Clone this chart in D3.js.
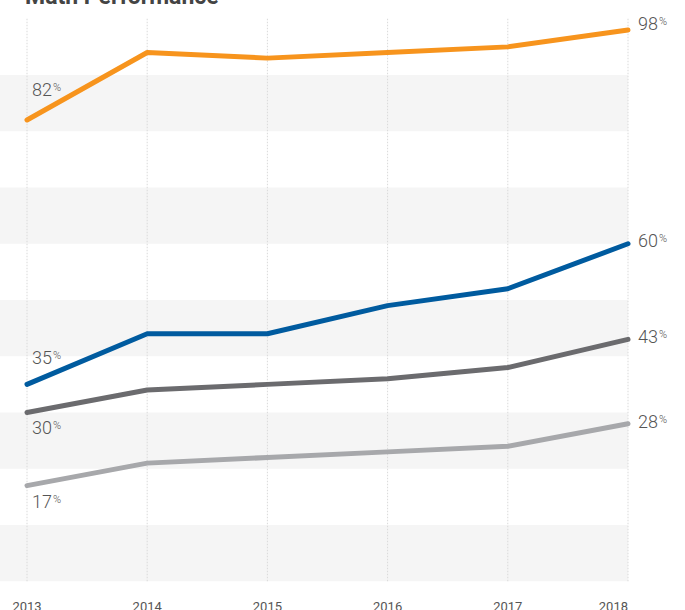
<!DOCTYPE html>
<html>
<head>
<meta charset="utf-8">
<script src="https://cdn.jsdelivr.net/npm/d3@7"></script>
<style>
  body { margin: 0; background: #fff; }
  svg { display: block; font-family: Roboto, "Noto Sans", sans-serif; }
</style>
</head>
<body>
<div id="wrapper"></div>
<script>
// data
const years = [2013, 2014, 2015, 2016, 2017, 2018];
const top4 = [82, 94, 93, 94, 95, 98];      // orange
const mid = [35, 44, 44, 49, 52, 60];       // blue
const low = [30, 34, 35, 36, 38, 43];       // dark grey
const bottom = [17, 21, 22, 23, 24, 28];    // light grey
const bands = [[0, 10], [20, 30], [40, 50], [60, 70], [80, 90]];

function drawChart() {
  let dimensions = {
    width: 685,
    height: 610,
    margin: { top: 18.75, right: 57, bottom: 28.75, left: 27 },
  };
  dimensions.boundedWidth =
    dimensions.width - dimensions.margin.left - dimensions.margin.right;
  dimensions.boundedHeight =
    dimensions.height - dimensions.margin.top - dimensions.margin.bottom;

  const wrapper = d3
    .select("#wrapper")
    .append("svg")
    .attr("width", dimensions.width)
    .attr("height", dimensions.height);

  wrapper
    .append("text")
    .attr("x", 25)
    .attr("y", 4)
    .attr("fill", "#444")
    .style("font-size", "23px")
    .style("font-weight", "bold")
    .text("Math Performance");

  const bounds = wrapper
    .append("g")
    .attr(
      "transform",
      `translate(${dimensions.margin.left}, ${dimensions.margin.top})`
    );

  const xScale = d3
    .scaleLinear()
    .domain(d3.extent(years))
    .range([0, dimensions.boundedWidth]);

  const yScale = d3
    .scaleLinear()
    .domain([0, 100])
    .range([dimensions.boundedHeight, 0]);

  // grey stripes
  bounds
    .selectAll(".band")
    .data(bands)
    .join("rect")
    .attr("class", "band")
    .attr("x", -dimensions.margin.left)
    .attr("width", dimensions.boundedWidth + dimensions.margin.left)
    .attr("y", (d) => yScale(d[1]))
    .attr("height", (d) => yScale(d[0]) - yScale(d[1]))
    .attr("fill", "#f5f5f5");

  // dotted year lines
  bounds
    .selectAll(".grid")
    .data(years)
    .join("line")
    .attr("class", "grid")
    .attr("x1", (d) => xScale(d))
    .attr("x2", (d) => xScale(d))
    .attr("y1", yScale(100))
    .attr("y2", yScale(0))
    .attr("stroke", "#d9d9d9")
    .attr("stroke-width", 1)
    .attr("stroke-dasharray", "1.5,1.5");

  // year labels
  bounds
    .selectAll(".year")
    .data(years)
    .join("text")
    .attr("class", "year")
    .attr("x", (d) => xScale(d))
    .attr("y", dimensions.boundedHeight + 30)
    .attr("text-anchor", (d, i) => (i === years.length - 1 ? "end" : "middle"))
    .attr("fill", "#555")
    .style("font-size", "13px")
    .text((d) => d);

  const series = [
    { values: bottom, color: "#a7a8ab", left: 22, right: 4 },
    { values: low, color: "#6b6b6e", left: 21, right: 4 },
    { values: mid, color: "#005b9f", left: -20, right: 3 },
    { values: top4, color: "#f7941d", left: -24, right: 0 },
  ];

  const lineGenerator = d3
    .line()
    .x((d, i) => xScale(years[i]))
    .y((d) => yScale(d));

  bounds
    .selectAll(".series")
    .data(series)
    .join("path")
    .attr("class", "series")
    .attr("d", (d) => lineGenerator(d.values))
    .attr("fill", "none")
    .attr("stroke", (d) => d.color)
    .attr("stroke-width", 5)
    .attr("stroke-linecap", "round")
    .attr("stroke-linejoin", "round");

  function addLabel(x, y, value) {
    const t = bounds
      .append("text")
      .attr("x", x)
      .attr("y", y)
      .attr("fill", "#555")
      .style("font-size", "18px")
      .style("font-weight", 300);
    t.append("tspan").text(value);
    t.append("tspan")
      .attr("dy", -5)
      .attr("dx", 1)
      .style("font-size", "11px")
      .text("%");
  }

  series.forEach((s) => {
    const first = s.values[0];
    const last = s.values[s.values.length - 1];
    addLabel(5, yScale(first) + s.left, first);
    addLabel(dimensions.boundedWidth + 10, yScale(last) + s.right, last);
  });
}

drawChart();
</script>
</body>
</html>
